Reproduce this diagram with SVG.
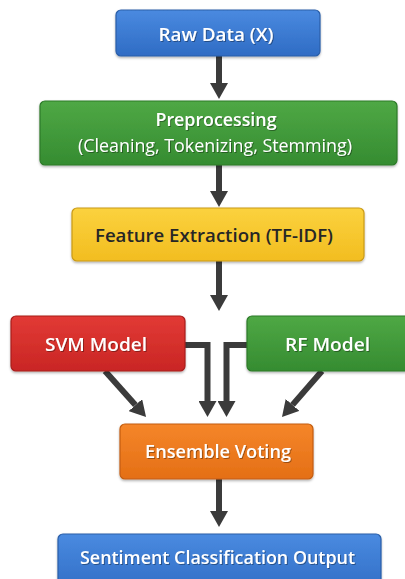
<svg xmlns="http://www.w3.org/2000/svg" width="405" height="579" viewBox="0 0 405 579">
<defs>
  <linearGradient id="gBlue" x1="0" y1="0" x2="0" y2="1"><stop offset="0" stop-color="#4a8ae0"/><stop offset="1" stop-color="#2f6cc4"/></linearGradient>
  <linearGradient id="gGreen" x1="0" y1="0" x2="0" y2="1"><stop offset="0" stop-color="#4fa845"/><stop offset="1" stop-color="#358c31"/></linearGradient>
  <linearGradient id="gYellow" x1="0" y1="0" x2="0" y2="1"><stop offset="0" stop-color="#fbd23e"/><stop offset="1" stop-color="#f2bd20"/></linearGradient>
  <linearGradient id="gRed" x1="0" y1="0" x2="0" y2="1"><stop offset="0" stop-color="#e23a35"/><stop offset="1" stop-color="#c92624"/></linearGradient>
  <linearGradient id="gOrange" x1="0" y1="0" x2="0" y2="1"><stop offset="0" stop-color="#f5862a"/><stop offset="1" stop-color="#e46f15"/></linearGradient>
  <filter id="ts" x="-10%" y="-30%" width="120%" height="160%"><feDropShadow dx="1" dy="1" stdDeviation="0.6" flood-color="#000" flood-opacity="0.35"/></filter>
  <filter id="bs" x="-5%" y="-10%" width="110%" height="130%"><feDropShadow dx="0" dy="1.5" stdDeviation="1.2" flood-color="#000" flood-opacity="0.3"/></filter>
  <marker id="ah" viewBox="0 0 16 18" refX="0" refY="9" markerWidth="16" markerHeight="18" markerUnits="userSpaceOnUse" orient="auto">
    <path d="M0,0 L16,9 L0,18 z" fill="#3b3b3b"/>
  </marker>
</defs>
<style>
  .box { stroke-width: 1.2; filter: url(#bs); }
  .lbl { font-family: "Open Sans", "Noto Sans", "Liberation Sans", sans-serif; font-size: 18.5px; font-weight: 600; fill: #fff; text-anchor: middle; dominant-baseline: central; filter: url(#ts); }
  .dark { fill: #262626; filter: none; }
  .sub { font-weight: 400; font-size: 18px; }
  .conn { fill: none; stroke: #3b3b3b; stroke-width: 6; marker-end: url(#ah); }
</style>
<rect width="405" height="579" fill="#fff"/>
<g id="connectors">
  <path class="conn" d="M219,56 V83"/>
  <path class="conn" d="M219,165 V191"/>
  <path class="conn" d="M219,261 V295"/>
  <path class="conn" d="M185,345 H207.5 V401"/>
  <path class="conn" d="M247,345 H226.5 V401"/>
  <path class="conn" d="M105,371 L135.4,405.1"/>
  <path class="conn" d="M322,371 L292.5,404.9"/>
  <path class="conn" d="M219,479 V511"/>
</g>
<g id="raw-data">
  <rect class="box" x="116" y="10" width="204" height="46" rx="5" fill="url(#gBlue)" stroke="#2a5ea8"/>
  <text class="lbl" x="216" y="33" textLength="115" lengthAdjust="spacingAndGlyphs">Raw Data (X)</text>
</g>
<g id="preprocessing">
  <rect class="box" x="40" y="101" width="357" height="64" rx="5" fill="url(#gGreen)" stroke="#2c7a29"/>
  <text class="lbl" x="216" y="118.5" textLength="121" lengthAdjust="spacingAndGlyphs">Preprocessing</text>
  <text class="lbl sub" x="215" y="145" textLength="274" lengthAdjust="spacingAndGlyphs">(Cleaning, Tokenizing, Stemming)</text>
</g>
<g id="feature-extraction">
  <rect class="box" x="72" y="208" width="292" height="53" rx="5" fill="url(#gYellow)" stroke="#c99a18"/>
  <text class="lbl dark" x="214" y="234" textLength="238" lengthAdjust="spacingAndGlyphs">Feature Extraction (TF-IDF)</text>
</g>
<g id="svm-model">
  <rect class="box" x="11" y="316" width="174" height="55" rx="5" fill="url(#gRed)" stroke="#a81e1c"/>
  <text class="lbl" x="96" y="343" textLength="102" lengthAdjust="spacingAndGlyphs">SVM Model</text>
</g>
<g id="rf-model">
  <rect class="box" x="247" y="316" width="170" height="55" rx="5" fill="url(#gGreen)" stroke="#2c7a29"/>
  <text class="lbl" x="327.5" y="343" textLength="85" lengthAdjust="spacingAndGlyphs">RF Model</text>
</g>
<g id="ensemble-voting">
  <rect class="box" x="120" y="424" width="193" height="55" rx="5" fill="url(#gOrange)" stroke="#c45d10"/>
  <text class="lbl" x="218" y="450" textLength="146" lengthAdjust="spacingAndGlyphs">Ensemble Voting</text>
</g>
<g id="output">
  <rect class="box" x="58" y="534" width="323" height="60" rx="5" fill="url(#gBlue)" stroke="#2a5ea8"/>
  <text class="lbl" x="217.5" y="556" textLength="275" lengthAdjust="spacingAndGlyphs">Sentiment Classification Output</text>
</g>
</svg>
